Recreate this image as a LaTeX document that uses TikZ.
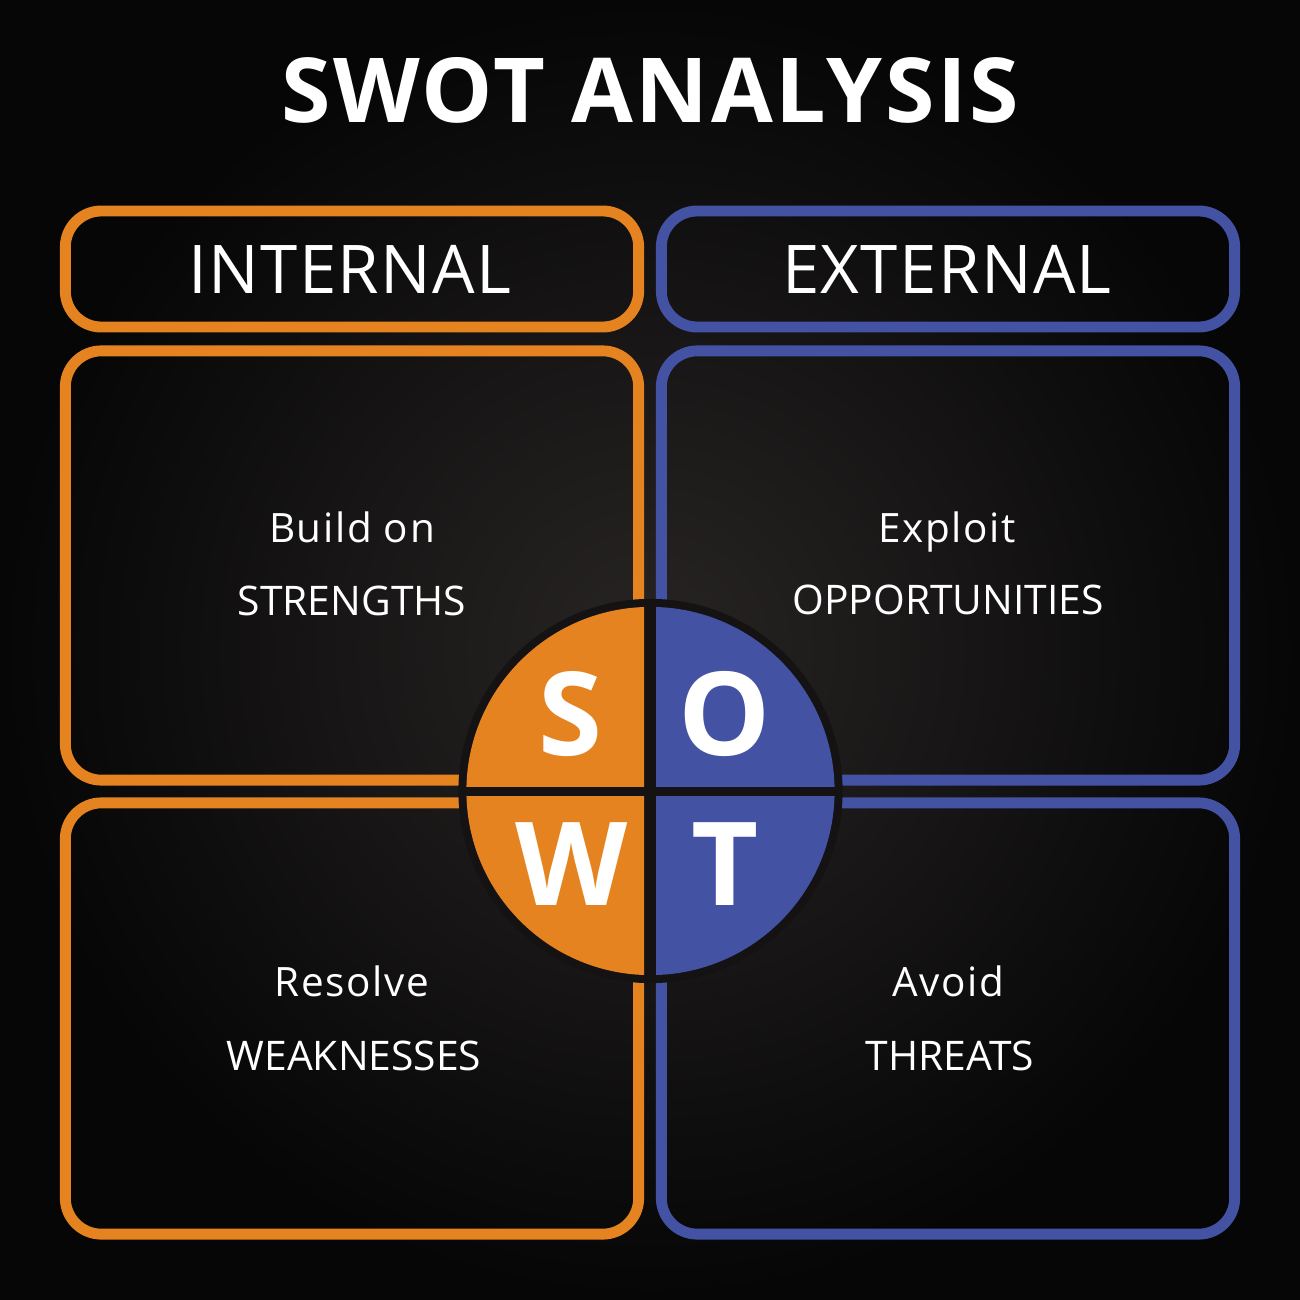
\documentclass[tikz,border=0pt]{standalone}
\usepackage{fontspec}
\setmainfont{Open Sans}
\newfontfamily\headfont{Open Sans}[LetterSpace=2]
\newfontfamily\lowfont{Open Sans}[LetterSpace=4]
\newfontfamily\titlefont{Open Sans}[LetterSpace=3]
\definecolor{swotorange}{RGB}{229,131,32}
\definecolor{swotblue}{RGB}{67,82,163}
\definecolor{bgcenter}{RGB}{40,36,36}
\definecolor{bgedge}{RGB}{6,6,6}
\definecolor{gapc}{RGB}{20,18,18}
\begin{document}
\begin{tikzpicture}[x=0.01cm,y=-0.01cm,
  frame/.style={draw=#1, line width=3.1pt, rounded corners=0.36cm, inner sep=0pt, minimum width=5.73cm},
  head/.style={font=\headfont\fontsize{19.1}{20}\selectfont, text=white, anchor=base, inner sep=0pt},
  lowline/.style={font=\lowfont\fontsize{11.5}{12}\selectfont, text=white, anchor=base, inner sep=0pt},
  capline/.style={font=\fontsize{11.6}{13}\selectfont, text=white, anchor=base, inner sep=0pt},
  letter/.style={font=\bfseries\fontsize{33}{36}\selectfont, text=white, anchor=base, inner sep=0pt},
  titlestyle/.style={font=\titlefont\bfseries\fontsize{25.5}{28}\selectfont, text=white, anchor=base, inner sep=0pt},
]
\useasboundingbox (0,0) rectangle (1300,1300);
\shade[inner color=bgcenter, outer color=bgedge] (0,0) rectangle (1300,1300);

% title
\node[titlestyle] (title) at (650,123) {SWOT ANALYSIS};

% header boxes
\node[frame=swotorange, minimum height=1.16cm] (intbox) at (352,269) {};
\node[frame=swotblue, minimum height=1.16cm] (extbox) at (948,269) {};
\node[head] (inttext) at (350,293) {INTERNAL};
\node[head] (exttext) at (947,293) {EXTERNAL};

% quadrant boxes
\node[frame=swotorange, minimum height=4.29cm] (sbox) at (352,565.5) {};
\node[frame=swotblue, minimum height=4.29cm] (obox) at (948,565.5) {};
\node[frame=swotorange, minimum height=4.31cm] (wbox) at (352,1018.5) {};
\node[frame=swotblue, minimum height=4.31cm] (tbox) at (948,1018.5) {};

% quadrant texts
\node[lowline] (s1) at (352,542) {Build on};
\node[capline] (s2) at (352,615) {STRENGTHS};
\node[lowline] (o1) at (947,542) {Exploit};
\node[capline] (o2) at (948,614) {OPPORTUNITIES};
\node[lowline] (w1) at (352,996) {Resolve};
\node[capline] (w2) at (354,1070) {WEAKNESSES};
\node[lowline] (t1) at (948,996) {Avoid};
\node[capline] (t2) at (950,1070) {THREATS};

% central circle
\coordinate (cc) at (650.5,791);
\fill[gapc] (cc) circle[radius=1.92cm];
\begin{scope}
  \clip (0,0) rectangle (644,786);
  \fill[swotorange] (cc) circle[radius=1.84cm];
\end{scope}
\begin{scope}
  \clip (656,0) rectangle (1300,786);
  \fill[swotblue] (cc) circle[radius=1.84cm];
\end{scope}
\begin{scope}
  \clip (0,796) rectangle (644,1300);
  \fill[swotorange] (cc) circle[radius=1.84cm];
\end{scope}
\begin{scope}
  \clip (656,796) rectangle (1300,1300);
  \fill[swotblue] (cc) circle[radius=1.84cm];
\end{scope}

\node[letter] (ls) at (570.5,755) {S};
\node[letter] (lo) at (725,755) {O};
\node[letter] (lw) at (572,905) {W};
\node[letter] (lt) at (725.5,905) {T};
\end{tikzpicture}
\end{document}
